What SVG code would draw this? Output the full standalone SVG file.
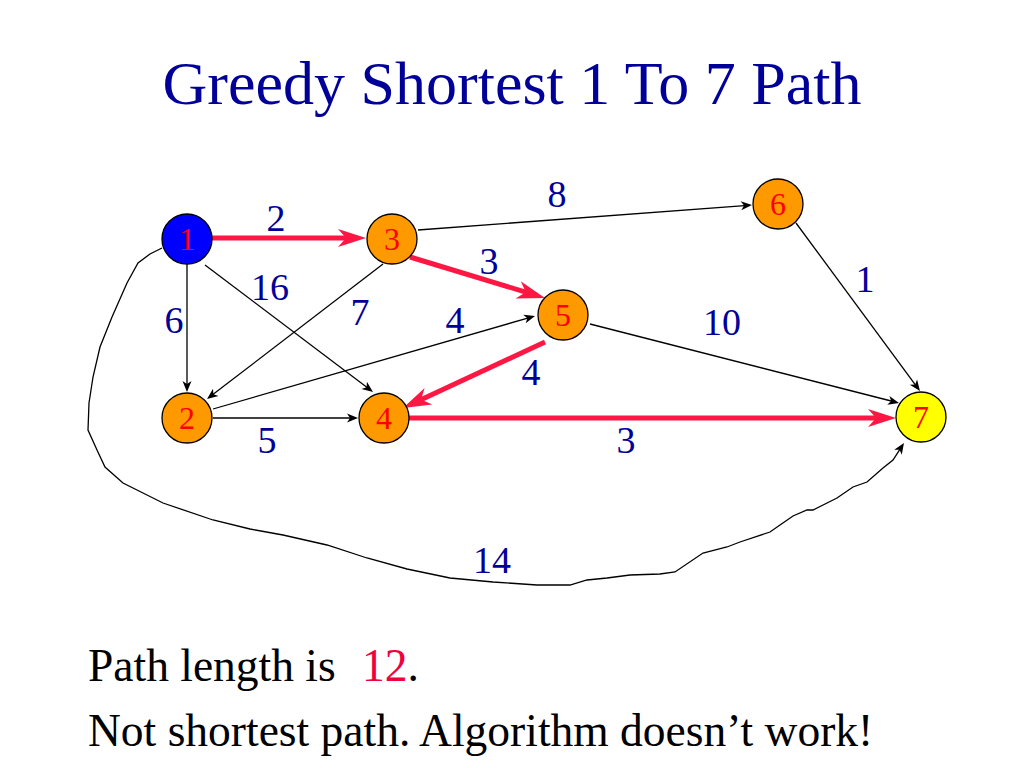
<svg xmlns="http://www.w3.org/2000/svg" width="1024" height="768" viewBox="0 0 1024 768">
<style>
.node{stroke:#000;stroke-width:1.3}
.nl{font-family:"Liberation Serif","Times New Roman",serif;font-size:32px;fill:#ff0000;text-anchor:middle}
.el{font-family:"Liberation Serif","Times New Roman",serif;font-size:38px;fill:#000099;text-anchor:middle}
.blk{stroke:#000;stroke-width:1.3;fill:none}
.red{stroke:#ff1744;stroke-width:5;fill:none}
.txt{font-family:"Liberation Serif","Times New Roman",serif;font-size:45.5px;fill:#000}
</style>
<defs>
<marker id="ar" markerUnits="userSpaceOnUse" viewBox="-14 -11 30 22" markerWidth="30" markerHeight="22" refX="0" refY="0" orient="auto">
<path d="M15,0 L-13,-9 L-5,0 L-13,9 Z" fill="#ff1744"/>
</marker>
<marker id="ab" markerUnits="userSpaceOnUse" viewBox="-8 -6 14 12" markerWidth="14" markerHeight="12" refX="0" refY="0" orient="auto">
<path d="M4,0 L-7,-4.5 L-4,0 L-7,4.5 Z" fill="#000"/>
</marker>
</defs>
<rect width="1024" height="768" fill="#fff"/>
<text x="512" y="104" font-family="Liberation Serif, Times New Roman, serif" font-size="62" fill="#000099" text-anchor="middle">Greedy Shortest 1 To 7 Path</text>
<g id="connectors">
<line class="blk" x1="187" y1="264" x2="187" y2="388" marker-end="url(#ab)"/>
<line class="blk" x1="205" y1="265" x2="369.8" y2="389.6" marker-end="url(#ab)"/>
<line class="blk" x1="383" y1="264" x2="210.2" y2="396.6" marker-end="url(#ab)"/>
<line class="blk" x1="213" y1="409" x2="531.2" y2="317.1" marker-end="url(#ab)"/>
<line class="blk" x1="213" y1="418" x2="354" y2="418" marker-end="url(#ab)"/>
<line class="blk" x1="418" y1="230" x2="748" y2="205.3" marker-end="url(#ab)"/>
<line class="blk" x1="796" y1="223" x2="917.6" y2="387.8" marker-end="url(#ab)"/>
<line class="blk" x1="590" y1="324" x2="895.1" y2="402" marker-end="url(#ab)"/>
<path class="blk" d="M162,248 L150,254 L138,263 L127,283 L112,317 L100,347 L93,377 L89,403 L88,430 L97,450 L105,467 L123,483 L163,503 L213,520 L250,529 L283,535 L327,545 L367,558 L407,569 L450,578 L493,582 L537,585 L570,585 L587,580 L607,578 L630,575 L660,574 L675,572 L703,553 L727,547 L740,542 L770,532 L780,525 L793,516 L807,510 L813,510 L837,498 L853,487 L867,482 L883,468 L893,460 L901.8,446.4" marker-end="url(#ab)"/>
<line class="red" x1="212" y1="238" x2="351" y2="238" marker-end="url(#ar)"/>
<line class="red" x1="410" y1="257" x2="530.6" y2="293.6" marker-end="url(#ar)"/>
<line class="red" x1="545" y1="342" x2="416.6" y2="401.7" marker-end="url(#ar)"/>
<line class="red" x1="409" y1="418" x2="881" y2="418" marker-end="url(#ar)"/>
</g>
<g id="edge-labels">
<text class="el" x="276" y="231">2</text>
<text class="el" x="557" y="207">8</text>
<text class="el" x="489" y="274">3</text>
<text class="el" x="865" y="292">1</text>
<text class="el" x="270" y="300">16</text>
<text class="el" x="360" y="325">7</text>
<text class="el" x="174" y="333">6</text>
<text class="el" x="455" y="333">4</text>
<text class="el" x="722" y="335">10</text>
<text class="el" x="531" y="385">4</text>
<text class="el" x="267" y="453">5</text>
<text class="el" x="626" y="453">3</text>
<text class="el" x="492" y="573">14</text>
</g>
<g id="node1"><circle class="node" cx="187" cy="239" r="25" fill="#0000ff"/><text class="nl" x="187" y="250">1</text></g>
<g id="node2"><circle class="node" cx="187" cy="418" r="25" fill="#ff9900"/><text class="nl" x="187" y="429">2</text></g>
<g id="node3"><circle class="node" cx="392" cy="239" r="25" fill="#ff9900"/><text class="nl" x="392" y="250">3</text></g>
<g id="node4"><circle class="node" cx="384" cy="418" r="25" fill="#ff9900"/><text class="nl" x="384" y="429">4</text></g>
<g id="node5"><circle class="node" cx="563" cy="315" r="25" fill="#ff9900"/><text class="nl" x="563" y="326">5</text></g>
<g id="node6"><circle class="node" cx="778" cy="204" r="25" fill="#ff9900"/><text class="nl" x="778" y="215">6</text></g>
<g id="node7"><circle class="node" cx="921" cy="417" r="25" fill="#ffff00"/><text class="nl" x="921" y="428">7</text></g>
<text class="txt" x="88" y="681">Path length is <tspan x="362" fill="#f0003c">12</tspan>.</text>
<text class="txt" x="88" y="746">Not shortest path. Algorithm doesn’t work!</text>
</svg>
